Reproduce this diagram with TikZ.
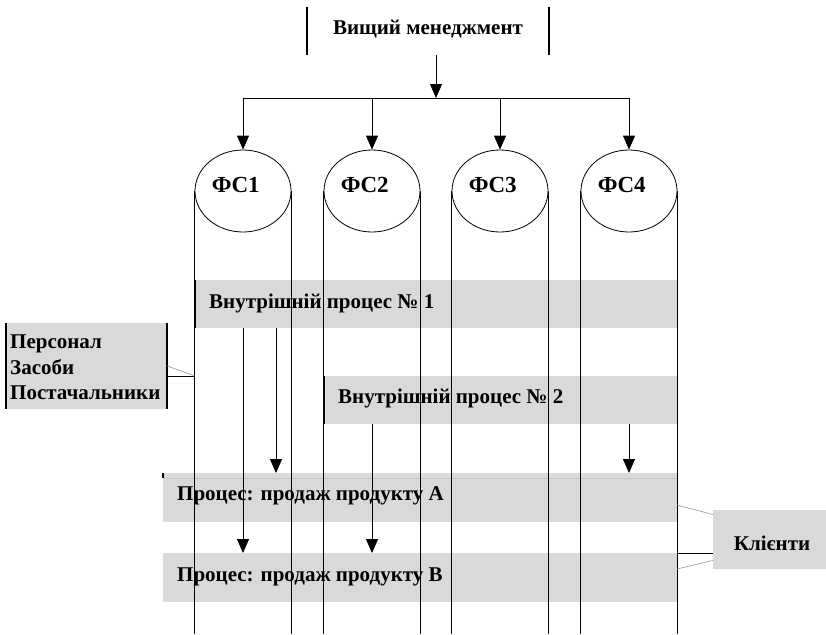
\documentclass[tikz,border=0pt]{standalone}
\usepackage{fontspec}
\setmainfont{Liberation Serif}
\usetikzlibrary{arrows.meta,shapes.geometric}
\definecolor{bandgray}{RGB}{217,217,217}
\definecolor{bandline}{RGB}{196,196,196}
\definecolor{thingray}{RGB}{150,150,150}

\begin{document}
\begin{tikzpicture}[x=1pt,y=-1pt,
  lbl/.style={font=\fontsize{21}{26}\selectfont\bfseries, inner sep=0pt},
  fstext/.style={font=\fontsize{23}{26}\selectfont\bfseries, inner sep=0pt, anchor=base west},
  fsell/.style={ellipse, draw, line width=0.8pt, fill=white,
    minimum width=96pt, minimum height=82pt, inner sep=0pt},
  band/.style={fill=bandgray, inner sep=0pt, anchor=north west},
  col/.style={line width=0.8pt},
  edge/.style={line width=1.7pt},
  arr/.style={line width=0.8pt, -{Triangle[width=12pt,length=14pt]}},
  feed/.style={thingray, line width=0.6pt},
  link/.style={line width=0.8pt}]

\useasboundingbox (0,0) rectangle (826,634);
\coordinate (bot) at (0,634);

% top management box: only its side edges are drawn
\node[inner sep=0pt, minimum width=242pt, minimum height=48pt] (mgmt) at (428,31) {};
\node[lbl, anchor=base] (mgmtt) at (428,35) {Вищий менеджмент};
\draw[edge] (mgmt.north west) -- (mgmt.south west);
\draw[edge] (mgmt.north east) -- (mgmt.south east);

% process bands
\node[band, minimum width=482pt, minimum height=48pt] (p1) at (195,280) {};
\node[band, minimum width=353pt, minimum height=48pt] (p2) at (324,376) {};
\node[band, minimum width=514pt, minimum height=49pt] (pa) at (163,473) {};
\node[band, minimum width=514pt, minimum height=49pt] (pb) at (163,553) {};
\draw[bandline, line width=0.8pt] ([yshift=-5pt]pa.north west) -- ([yshift=-5pt]pa.north east);

\node[lbl, anchor=base west] (p1t) at (209,308) {Внутрішній процес № 1};
\node[lbl, anchor=base west] (p2t) at (338,403) {Внутрішній процес № 2};
\node[lbl, anchor=base west] (pat) at (177,500) {Процес: продаж продукту А};
\node[lbl, anchor=base west] (pbt) at (177,581) {Процес: продаж продукту В};

% functional services with their columns
\foreach \i/\x in {1/243,2/372,3/500,4/629}{
  \node[fsell] (fs\i) at (\x,191) {};
  \node[fstext] (fs\i t) at ([xshift=17pt,yshift=-1pt]fs\i.west) {ФС\i};
  \draw[col] (fs\i.west) -- (fs\i.west |- bot);
  \draw[col] (fs\i.east) -- (fs\i.east |- bot);
}

% band edges
\draw[edge] (p1.north west) -- (p1.south west);
\draw[edge] (p1.north east) -- (p1.south east);
\draw[edge] (p2.north west) -- (p2.south west);
\draw[edge] (p2.north east) -- (p2.south east);
\draw[edge] (pa.north west) -- ([yshift=-5pt]pa.north west);
\draw[edge] (pa.north east) -- (pa.south east);

% distribution from management
\coordinate (hub) at (436,98);
\draw[arr] (mgmt.south -| hub) -- (hub);
\draw[link] (fs1.north |- hub) -- (fs4.north |- hub);
\foreach \i in {1,...,4}
  \draw[arr] (fs\i.north |- hub) -- (fs\i.north);

% flows between processes
\draw[arr] (243,328) -- (243,553);
\draw[arr] (276,328) -- (276,473);
\draw[arr] (372,424) -- (372,553);
\draw[arr] (629,424) -- (629,473);

% resources
\node[fill=bandgray, inner sep=0pt, minimum width=161pt, minimum height=86pt] (res) at (86.5,366) {};
\draw[edge] (res.north west) -- (res.south west);
\draw[edge] (res.north east) -- (res.south east);
\node[lbl, anchor=base west] (r1) at (10,348) {Персонал};
\node[lbl, anchor=base west] (r2) at (10,374) {Засоби};
\node[lbl, anchor=base west] (r3) at (10,399) {Постачальники};
\coordinate (jl) at (195,376);
\draw[feed] (res.east) -- (jl);
\draw[link] (res.east |- jl) -- (jl);

% customers
\node[fill=bandgray, inner sep=0pt, minimum width=113pt, minimum height=59pt] (cl) at (769.5,539.5) {};
\node[lbl, anchor=base] (clt) at (772,550) {Клієнти};
\coordinate (jr1) at (677,505);
\coordinate (jr2) at (677,553);
\coordinate (jr3) at (677,569);
\draw[feed] (jr1) -- ([yshift=25pt]cl.west);
\draw[feed] (jr3) -- ([yshift=-21pt]cl.west);
\draw[link] (jr2) -- (cl.west |- jr2);
\end{tikzpicture}
\end{document}
